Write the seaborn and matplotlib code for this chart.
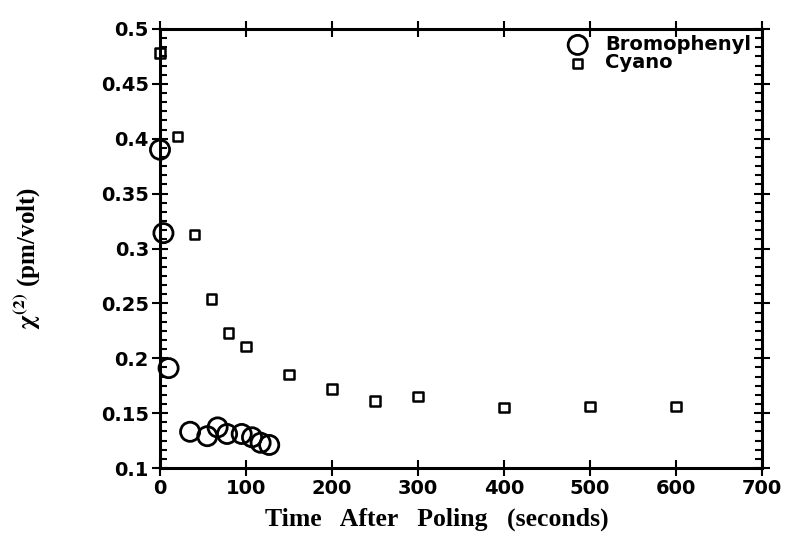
import matplotlib
matplotlib.use("Agg")
import matplotlib.pyplot as plt
import seaborn as sns
import pandas as pd
from matplotlib.ticker import AutoMinorLocator

# Data
bromo_time = [0, 4, 10, 35, 55, 67, 78, 95, 107, 117, 127]
bromo_chi = [0.390, 0.314, 0.191, 0.133, 0.129, 0.137, 0.131, 0.131, 0.128, 0.123, 0.121]
cyano_time = [0, 20, 40, 60, 80, 100, 150, 200, 250, 300, 400, 500, 600]
cyano_chi = [0.478, 0.402, 0.313, 0.254, 0.223, 0.211, 0.185, 0.172, 0.161, 0.165, 0.155, 0.156, 0.156]
series_names = ["Bromophenyl", "Cyano"]
x_ticks = [0, 100, 200, 300, 400, 500, 600, 700]
y_ticks = [0.1, 0.15, 0.2, 0.25, 0.3, 0.35, 0.4, 0.45, 0.5]
y_tick_labels = ["0.1", "0.15", "0.2", "0.25", "0.3", "0.35", "0.4", "0.45", "0.5"]

df = pd.concat([
    pd.DataFrame({"t": bromo_time, "chi": bromo_chi, "s": series_names[0]}),
    pd.DataFrame({"t": cyano_time, "chi": cyano_chi, "s": series_names[1]}),
])

sns.set_style("ticks", rc={"text.color": "black", "axes.labelcolor": "black",
                           "xtick.color": "black", "ytick.color": "black",
                           "axes.edgecolor": "black"})
plt.rcParams["mathtext.fontset"] = "stix"
fig = plt.figure(figsize=(7.95, 5.37), dpi=100)
ax = fig.add_axes([160/795, 1 - 468/537, (762-160)/795, (468-29)/537])

sub_b = df[df.s == series_names[0]]
sub_c = df[df.s == series_names[1]]
sns.scatterplot(data=sub_b, x="t", y="chi", ax=ax, marker="o", s=190,
                facecolor="none", edgecolor="black", linewidth=2.0,
                label=series_names[0], zorder=3, clip_on=False)
sns.scatterplot(data=sub_c, x="t", y="chi", ax=ax, marker="s", s=45,
                facecolor="none", edgecolor="black", linewidth=1.8,
                label=series_names[1], zorder=3, clip_on=False)

ax.set_xlim(0, 700)
ax.set_ylim(0.1, 0.5)
ax.set_xticks(x_ticks)
ax.set_xticklabels([str(v) for v in x_ticks])
ax.set_yticks(y_ticks)
ax.set_yticklabels(y_tick_labels)
ax.yaxis.set_minor_locator(AutoMinorLocator(6))

for sp in ax.spines.values():
    sp.set_linewidth(2.2)
    sp.set_visible(True)

ax.tick_params(axis="both", which="major", direction="inout", length=12, width=1.5,
               top=True, right=True, labelsize=14, pad=2)
ax.tick_params(axis="y", which="minor", direction="in", length=5, width=1.5,
               left=True, right=True)
for lab in ax.get_xticklabels() + ax.get_yticklabels():
    lab.set_fontweight("bold")
    lab.set_family("DejaVu Sans")

ax.set_xlabel("Time   After   Poling   (seconds)", fontsize=18.5, fontweight="bold",
              family="Liberation Serif")
ax.set_ylabel(r"$\mathbf{\chi^{(2)}}$ (pm/volt)", fontsize=18, fontweight="bold",
              family="Liberation Serif")
ax.xaxis.set_label_coords(0.46, -0.09)
ax.yaxis.set_label_coords(-0.194, 0.478)

leg = ax.legend(loc="upper left", bbox_to_anchor=(568/795, 1 - 35/537),
                bbox_transform=fig.transFigure, frameon=False,
                prop={"family": "DejaVu Sans", "weight": "bold", "size": 14},
                handlelength=1.0, handletextpad=0.9, labelspacing=-0.03,
                borderpad=0, borderaxespad=0)

fig.savefig("out.png", dpi=100)
